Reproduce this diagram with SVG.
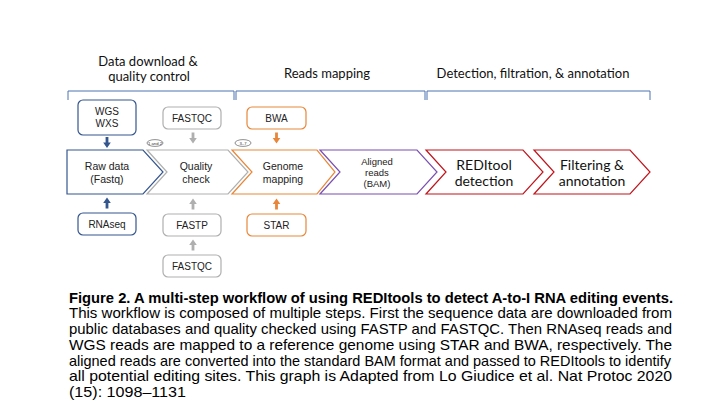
<svg xmlns="http://www.w3.org/2000/svg" xmlns:xlink="http://www.w3.org/1999/xlink" width="720" height="405" viewBox="0 0 720 405">
<style>
.hdr{font-family:Lato,"Liberation Sans",sans-serif;font-size:13px;fill:#111;text-anchor:middle}
.cal{font-family:Lato,"Liberation Sans",sans-serif;font-size:14px;fill:#111;text-anchor:middle}
.lbl{font-family:"Liberation Sans",Arial,sans-serif;font-size:10.5px;fill:#222;text-anchor:middle}
.sm{font-family:"Liberation Sans",Arial,sans-serif;font-size:10px;fill:#222;text-anchor:middle}
.sm2{font-family:"Liberation Sans",Arial,sans-serif;font-size:9.5px;fill:#222;text-anchor:middle}
.box{fill:#fff;stroke-width:1.2}
.chev{fill:#fff;stroke-width:1.2}
.blue{stroke:#34568F}
.grey{stroke:#AFAFAF}
.orange{stroke:#E8873A}
.purple{stroke:#7A4FB0}
.red{stroke:#C0141C}
.brk{fill:none;stroke:#4F72B0;stroke-width:1}
.oval{fill:#fff;stroke:#444;stroke-width:0.6}
.tiny{font-family:"Liberation Sans",Arial,sans-serif;font-size:4.2px;fill:#333;text-anchor:middle}
.cap{font-family:"Liberation Sans",Arial,sans-serif;font-size:15px;fill:#000}
.capb{font-family:"Liberation Sans",Arial,sans-serif;font-size:15px;font-weight:bold;fill:#000}
</style>
<defs>
<path id="arr" d="M-1.4,-5.5 H1.4 V0 H3.8 L0,5.5 L-3.8,0 H-1.4 Z"/>
</defs>
<rect width="720" height="405" fill="#fff"/>

<g id="headers">
<text class="hdr" x="148" y="66">Data download &amp;</text>
<text class="hdr" x="149" y="81">quality control</text>
<text class="hdr" x="327" y="78">Reads mapping</text>
<text class="hdr" x="533" y="78">Detection, filtration, &amp; annotation</text>
<path class="brk" d="M68,100 V91 H234 V100"/>
<path class="brk" d="M236,100 V91 H425 V100"/>
<path class="brk" d="M427,100 V91 H650 V100"/>
</g>

<g id="raw-data">
<path class="chev blue" d="M67,150 H143 L163,172 L143,194 H67 Z"/>
<text class="lbl" x="107" y="169.5">Raw data</text>
<text class="lbl" x="107" y="182.5">(Fastq)</text>
</g>
<g id="quality-check">
<path class="chev grey" d="M147,150 H228 L248,172 L228,194 H147 L167,172 Z"/>
<text class="lbl" x="196" y="169.5">Quality</text>
<text class="lbl" x="196" y="182.5">check</text>
</g>
<g id="genome-mapping">
<path class="chev orange" d="M232,150 H317 L335,172 L317,194 H232 L252,172 Z"/>
<text class="lbl" x="283" y="169.5">Genome</text>
<text class="lbl" x="283" y="182.5">mapping</text>
</g>
<g id="aligned-reads">
<path class="chev purple" d="M320,150 H417 L437,172 L417,194 H320 L340,172 Z"/>
<text class="sm2" x="377" y="165">Aligned</text>
<text class="sm2" x="377" y="176">reads</text>
<text class="sm2" x="377" y="187">(BAM)</text>
</g>
<g id="reditool-detection">
<path class="chev red" d="M426,150 H523 L543,172 L523,194 H426 L446,172 Z"/>
<text class="cal" x="484" y="170">REDItool</text>
<text class="cal" x="484" y="186">detection</text>
</g>
<g id="filtering-annotation">
<path class="chev red" d="M534,150 H630 L650,172 L630,194 H534 L554,172 Z"/>
<text class="cal" x="592" y="170">Filtering &amp;</text>
<text class="cal" x="592" y="186">annotation</text>
</g>

<g id="wgs-wxs">
<rect class="box blue" x="78" y="100" width="58" height="35" rx="5"/>
<text class="sm" x="107" y="115">WGS</text>
<text class="sm" x="107" y="127">WXS</text>
</g>
<g id="fastqc-top">
<rect class="box grey" x="163" y="107" width="58" height="22" rx="5"/>
<text class="sm" x="192" y="121.5">FASTQC</text>
</g>
<g id="bwa">
<rect class="box orange" x="247" y="107" width="59" height="22" rx="5"/>
<text class="sm" x="276.5" y="121.5">BWA</text>
</g>
<g id="rnaseq">
<rect class="box blue" x="78" y="213" width="58" height="22" rx="5"/>
<text class="sm" x="107" y="227.5">RNAseq</text>
</g>
<g id="fastp">
<rect class="box grey" x="163" y="214" width="58" height="22" rx="5"/>
<text class="sm" x="192" y="228.5">FASTP</text>
</g>
<g id="fastqc-bottom">
<rect class="box grey" x="163" y="255" width="58" height="22" rx="5"/>
<text class="sm" x="192" y="269.5">FASTQC</text>
</g>
<g id="star">
<rect class="box orange" x="247" y="214" width="59" height="22" rx="5"/>
<text class="sm" x="276.5" y="228.5">STAR</text>
</g>

<g id="step-1-2">
<ellipse class="oval" cx="155" cy="143" rx="8" ry="3.4"/>
<text class="tiny" x="155" y="144.5">1 and 2</text>
</g>
<g id="step-3-7">
<ellipse class="oval" cx="243" cy="143" rx="8" ry="3.4"/>
<text class="tiny" x="243" y="144.5">3–7</text>
</g>

<g id="connectors">
<use xlink:href="#arr" href="#arr" fill="#34568F" transform="translate(107,142.5)"/>
<use xlink:href="#arr" href="#arr" fill="#AFAFAF" transform="translate(193,138)"/>
<use xlink:href="#arr" href="#arr" fill="#E8873A" transform="translate(276.5,138)"/>
<use xlink:href="#arr" href="#arr" fill="#34568F" transform="translate(107,203) rotate(180)"/>
<use xlink:href="#arr" href="#arr" fill="#AFAFAF" transform="translate(193,204) rotate(180)"/>
<use xlink:href="#arr" href="#arr" fill="#AFAFAF" transform="translate(193,245) rotate(180)"/>
<use xlink:href="#arr" href="#arr" fill="#E8873A" transform="translate(276.5,204) rotate(180)"/>
</g>

<g id="caption">
<text class="capb" x="69" y="302.5" textLength="604" lengthAdjust="spacingAndGlyphs">Figure 2. A multi-step workflow of using REDItools to detect A-to-I RNA editing events.</text>
<text class="cap" x="69" y="318.3" textLength="603" lengthAdjust="spacingAndGlyphs">This workflow is composed of multiple steps. First the sequence data are downloaded from</text>
<text class="cap" x="69" y="334" textLength="603" lengthAdjust="spacingAndGlyphs">public databases and quality checked using FASTP and FASTQC. Then RNAseq reads and</text>
<text class="cap" x="69" y="349.8" textLength="603" lengthAdjust="spacingAndGlyphs">WGS reads are mapped to a reference genome using STAR and BWA, respectively. The</text>
<text class="cap" x="69" y="365.6" textLength="602" lengthAdjust="spacingAndGlyphs">aligned reads are converted into the standard BAM format and passed to REDItools to identify</text>
<text class="cap" x="69" y="381.4" textLength="603" lengthAdjust="spacingAndGlyphs">all potential editing sites. This graph is Adapted from Lo Giudice et al. Nat Protoc 2020</text>
<text class="cap" x="69" y="397.2" textLength="117" lengthAdjust="spacingAndGlyphs">(15): 1098–1131</text>
</g>
</svg>
